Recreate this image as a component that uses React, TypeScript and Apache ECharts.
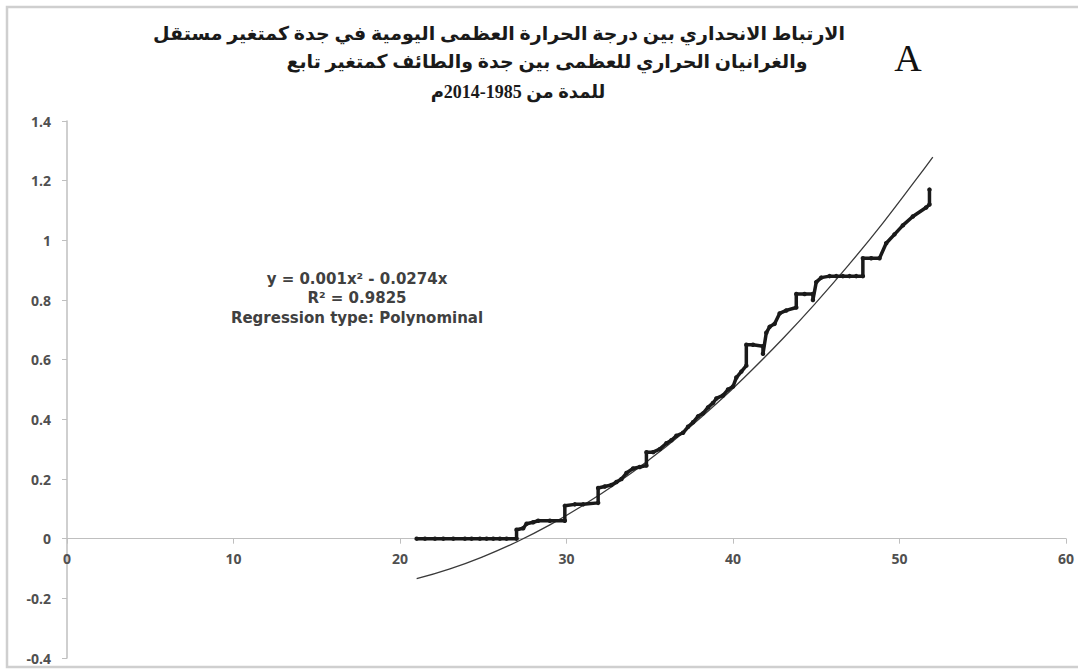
import React, { useEffect, useRef } from "react";
import * as echarts from "echarts";

// Observed step series (x: temperature, y: gradient)
const obsX = [21, 21.5, 22.1, 22.6, 23.2, 23.9, 24.3, 24.8, 25.2, 25.6, 26.0, 26.4, 27.0, 27.0, 27.4, 27.6, 28.0, 28.3, 29.0, 29.9, 29.9, 30.5, 31.0, 31.9, 31.9, 32.3, 32.7, 33.0, 33.3, 33.6, 34.0, 34.4, 34.8, 34.8, 35.2, 35.6, 36.0, 36.3, 36.6, 37.0, 37.3, 37.6, 37.9, 38.2, 38.5, 38.8, 39.0, 39.4, 39.7, 40.0, 40.2, 40.5, 40.8, 40.8, 41.2, 41.8, 41.8, 42.0, 42.2, 42.5, 42.8, 43.2, 43.8, 43.8, 44.3, 44.8, 44.8, 45.0, 45.3, 45.8, 46.2, 46.6, 47.0, 47.4, 47.8, 47.8, 48.3, 48.8, 49.2, 49.7, 50.2, 50.8, 51.6, 51.8, 51.8];
const obsY = [0, 0, 0, 0, 0, 0, 0, 0, 0, 0, 0, 0, 0, 0.03, 0.035, 0.05, 0.055, 0.06, 0.06, 0.06, 0.11, 0.115, 0.115, 0.12, 0.17, 0.175, 0.18, 0.19, 0.2, 0.22, 0.235, 0.24, 0.245, 0.29, 0.29, 0.3, 0.32, 0.33, 0.345, 0.355, 0.375, 0.39, 0.41, 0.42, 0.44, 0.455, 0.47, 0.48, 0.5, 0.51, 0.54, 0.56, 0.58, 0.65, 0.65, 0.645, 0.62, 0.69, 0.71, 0.72, 0.755, 0.765, 0.775, 0.82, 0.82, 0.82, 0.80, 0.86, 0.875, 0.88, 0.88, 0.88, 0.88, 0.88, 0.88, 0.94, 0.94, 0.94, 0.99, 1.02, 1.05, 1.08, 1.11, 1.12, 1.17];

// Polynomial trendline, values
const trendX = [21, 23, 25, 27, 29, 31, 33, 35, 37, 39, 41, 43, 45, 47, 49, 51, 52];
const trendY = [-0.134, -0.101, -0.06, -0.011, 0.046, 0.112, 0.185, 0.266, 0.355, 0.452, 0.558, 0.671, 0.792, 0.921, 1.058, 1.204, 1.279];

const titleLines = [
  "الارتباط الانحداري بين درجة الحرارة العظمى اليومية في جدة كمتغير مستقل",
  "والغرانيان الحراري للعظمى بين جدة والطائف كمتغير تابع",
  "للمدة من 1985-2014م",
];
const annotationLines = ["y = 0.001x² - 0.0274x", "R² = 0.9825", "Regression type: Polynominal"];
const panelLabel = "A";

export default function App() {
  const ref = useRef<HTMLDivElement>(null);
  useEffect(() => {
    if (!ref.current) return;
    const chart = echarts.init(ref.current, null, { renderer: "svg" });
    const labelStyle = {
      color: "#505050",
      fontFamily: "Open Sans",
      fontWeight: "bold" as const,
      fontSize: 14,
    };
    const titleFont = "'Liberation Serif', 'DejaVu Sans'";
    const titleText = (text: string, x: number, y: number, size: number) => ({
      type: "text",
      x,
      y,
      style: {
        text,
        fontFamily: titleFont,
        fontWeight: "bold",
        fontSize: size,
        fill: "#1a1a1a",
        align: "center",
        verticalAlign: "middle",
      },
    });
    chart.setOption({
      animation: false,
      backgroundColor: "#ffffff",
      grid: { left: 67, right: 12, top: 121, bottom: 14, outerBoundsMode: "none" },
      xAxis: {
        type: "value",
        min: 0,
        max: 60,
        interval: 10,
        position: "bottom",
        offset: -119.3,
        splitLine: { show: false },
        axisLine: { show: true, onZero: false, lineStyle: { color: "#bfbfbf", width: 1.2 } },
        axisTick: { show: true, length: 5, lineStyle: { color: "#bfbfbf" } },
        axisLabel: { ...labelStyle, margin: 13 },
      },
      yAxis: {
        type: "value",
        min: -0.4,
        max: 1.4,
        interval: 0.2,
        splitLine: { show: false },
        axisLine: { show: true, onZero: false, lineStyle: { color: "#bfbfbf", width: 1.5 } },
        axisTick: { show: true, length: 5, lineStyle: { color: "#bfbfbf" } },
        axisLabel: {
          ...labelStyle,
          margin: 16,
          formatter: (v: number) => String(Math.round(v * 10) / 10),
        },
      },
      series: [
        {
          type: "line",
          data: trendX.map((x, i) => [x, trendY[i]]),
          smooth: true,
          showSymbol: false,
          lineStyle: { color: "#3a3a3a", width: 1.3 },
          z: 2,
        },
        {
          type: "line",
          data: obsX.map((x, i) => [x, obsY[i]]),
          symbol: "circle",
          symbolSize: 4.5,
          itemStyle: { color: "#1a1a1a" },
          lineStyle: { color: "#1a1a1a", width: 3.5 },
          z: 3,
        },
      ],
      graphic: [
        {
          type: "rect",
          shape: { x: 7, y: 7, width: 1090, height: 660 },
          style: { fill: "none", stroke: "#cfcfcf", lineWidth: 2.5 },
          silent: true,
        },
        titleText(titleLines[0], 499, 33, 19),
        titleText(titleLines[1], 547, 61, 19),
        titleText(titleLines[2], 518, 92, 18),
        {
          type: "text",
          x: 908,
          y: 58,
          style: {
            text: panelLabel,
            fontFamily: "'Liberation Serif'",
            fontSize: 38,
            fill: "#111111",
            align: "center",
            verticalAlign: "middle",
          },
        },
        {
          type: "text",
          x: 357,
          y: 298,
          style: {
            text: annotationLines.join("\n"),
            fontFamily: "'DejaVu Sans'",
            fontWeight: "bold",
            fontSize: 15,
            lineHeight: 19.5,
            fill: "#404040",
            align: "center",
            verticalAlign: "middle",
          },
        },
      ],
    });
    return () => chart.dispose();
  }, []);
  return (
    <div
      ref={ref}
      style={{ position: "fixed", left: 0, top: 0, width: 1078, height: 672 }}
    />
  );
}
